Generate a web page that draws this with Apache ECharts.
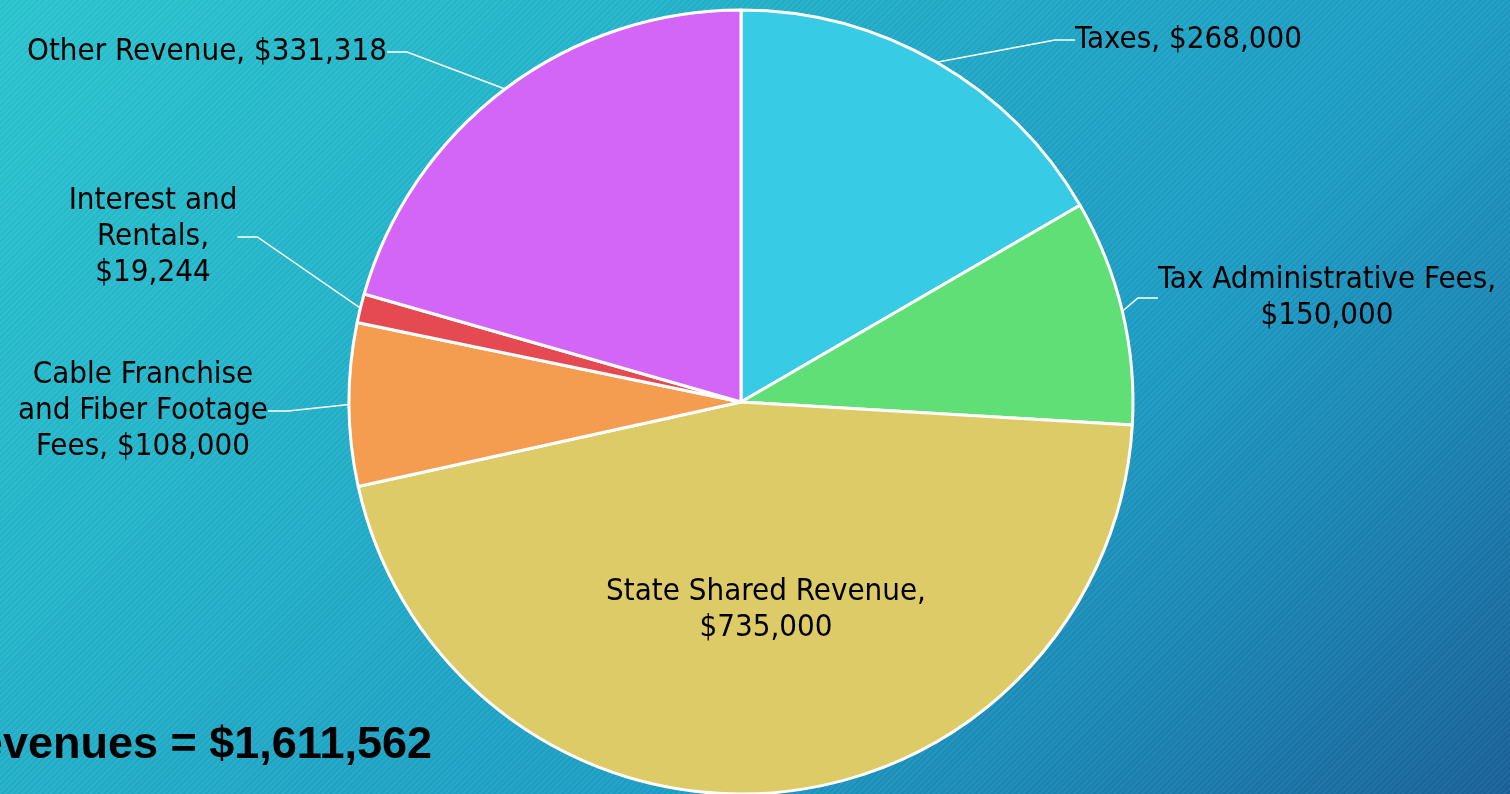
<!DOCTYPE html>
<html>
<head>
<meta charset="utf-8">
<script src="https://cdn.jsdelivr.net/npm/echarts@6/dist/echarts.min.js"></script>
<style>
html,body{margin:0;padding:0;width:1510px;height:794px;overflow:hidden;}
body{
  background:
    repeating-linear-gradient(135deg, rgba(255,255,255,0.035) 0px, rgba(255,255,255,0.035) 2px, rgba(0,0,0,0.03) 2px, rgba(0,0,0,0.03) 4px),
    linear-gradient(135deg, #2bc6d0 0%, #25b7cc 26%, #21a9c8 45%, #1e9ec6 65%, #1b85b4 81%, #1a6aa0 95%, #1a629a 100%);
}
#chart{width:1510px;height:794px;}
</style>
</head>
<body>
<div id="chart"></div>
<script>
// ---- data ----
var categories = ['Taxes', 'Tax Administrative Fees', 'State Shared Revenue', 'Cable Franchise and Fiber Footage Fees', 'Interest and Rentals', 'Other Revenue'];
var values = [268000, 150000, 735000, 108000, 19244, 331318];
var labelTexts = [
  'Taxes, $268,000',
  'Tax Administrative Fees,\n$150,000',
  'State Shared Revenue,\n$735,000',
  'Cable Franchise\nand Fiber Footage\nFees, $108,000',
  'Interest and\nRentals,\n$19,244',
  'Other Revenue, $331,318'
];
var totalText = 'Total Revenues = $1,611,562';

var colors = ['#38cbe6', '#5fdf76', '#dccb66', '#f49d50', '#e54a52', '#d466f7'];
var FONT = '"Liberation Sans Narrow", "DejaVu Sans Condensed", sans-serif';

// label placement (layout, not data)
var labelPlace = [
  {x: 1075, y: 40, align: 'left'},
  {x: 1327, y: 298, align: 'center'},
  {x: 766, y: 610, align: 'center'},
  {x: 143, y: 411, align: 'center'},
  {x: 153, y: 237, align: 'center'},
  {x: 207, y: 52, align: 'center'}
];

var chart = echarts.init(document.getElementById('chart'), null, {renderer: 'canvas'});
var data = categories.map(function (c, i) {
  var d = {name: c, value: values[i], itemStyle: {color: colors[i]}};
  if (i === 2) {
    d.label = {position: 'inside'};
    d.labelLine = {show: false};
  }
  return d;
});

chart.setOption({
  backgroundColor: 'transparent',
  animation: false,
  series: [{
    type: 'pie',
    center: [741, 402],
    radius: 392,
    startAngle: 90,
    clockwise: true,
    data: data,
    itemStyle: {borderColor: '#ffffff', borderWidth: 3},
    label: {
      show: true,
      position: 'outside',
      color: '#000',
      fontFamily: FONT,
      fontSize: 31,
      lineHeight: 36,
      align: 'center',
      overflow: 'none',
      edgeDistance: 0,
      formatter: function (p) { return labelTexts[p.dataIndex]; }
    },
    labelLine: {
      show: true,
      length: 20,
      length2: 20,
      lineStyle: {color: '#ffffff', width: 1.5}
    },
    labelLayout: function (p) {
      var lp = labelPlace[p.dataIndex];
      return {x: lp.x, y: lp.y, align: lp.align, verticalAlign: 'middle'};
    }
  }],
  graphic: [{
    type: 'text',
    right: 1510 - 432,
    top: 723,
    style: {
      text: totalText,
      fill: '#000',
      font: 'bold 45px "Liberation Sans", "DejaVu Sans", sans-serif',
      textAlign: 'right'
    }
  }]
});
</script>
</body>
</html>
